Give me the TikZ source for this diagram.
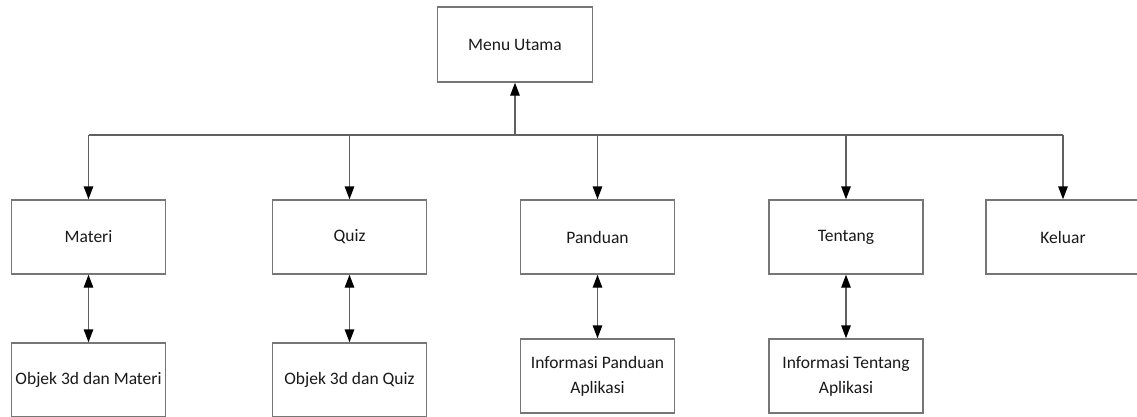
\documentclass[tikz,border=0pt]{standalone}
\usepackage{fontspec}
\setmainfont{Carlito}
\usetikzlibrary{arrows.meta}
\begin{document}
\begin{tikzpicture}[x=1pt,y=-1pt,
  box/.style={draw=boxgray, line width=1.4pt, fill=white, minimum width=154pt,
    minimum height=74pt, inner sep=0pt, align=center,
    font=\fontsize{17.5}{25}\selectfont, text=black!90},
  link/.style={draw=linegray, line width=1.4pt},
  tip/.tip={Triangle[length=13pt,width=9.5pt,black]},
  arr/.style={link, -tip},
  darr/.style={link, tip-tip}
]
\definecolor{boxgray}{HTML}{767676}
\definecolor{linegray}{HTML}{606060}
\useasboundingbox (0,0) rectangle (1137,416);
\clip (0,0) rectangle (1137,416);

% top level
\node[box, minimum width=155pt, minimum height=75pt] (menu) at (515,44.5) {Menu Utama};

% main menu entries
\node[box] (materi)  at (88.5,237)  {Materi};
\node[box] (quiz)    at (349.5,237) {Quiz};
\node[box] (panduan) at (597.5,237) {Panduan};
\node[box] (tentang) at (846,237)   {Tentang};
\node[box] (keluar)  at (1063,237)  {Keluar};

% sub pages
\node[box] (objmateri) at (88.5,380)  {Objek 3d dan Materi};
\node[box] (objquiz)   at (349.5,380) {Objek 3d dan Quiz};
\node[box] (infopand)  at (597.5,376) {Informasi Panduan\\Aplikasi};
\node[box] (infotent)  at (846,376)   {Informasi Tentang\\Aplikasi};

% distribution bus
\coordinate (hub) at (515,135);
\draw[link] (materi.north |- hub) -- (keluar.north |- hub);
\draw[arr] (hub) -- (menu.south);
\foreach \n in {materi,quiz,panduan,tentang,keluar}
  \draw[arr] (\n.north |- hub) -- (\n.north);

% two-way links to sub pages
\draw[darr] (materi.south) -- (objmateri.north);
\draw[darr] (quiz.south) -- (objquiz.north);
\draw[darr] (panduan.south) -- (infopand.north);
\draw[darr] (tentang.south) -- (infotent.north);
\end{tikzpicture}
\end{document}
